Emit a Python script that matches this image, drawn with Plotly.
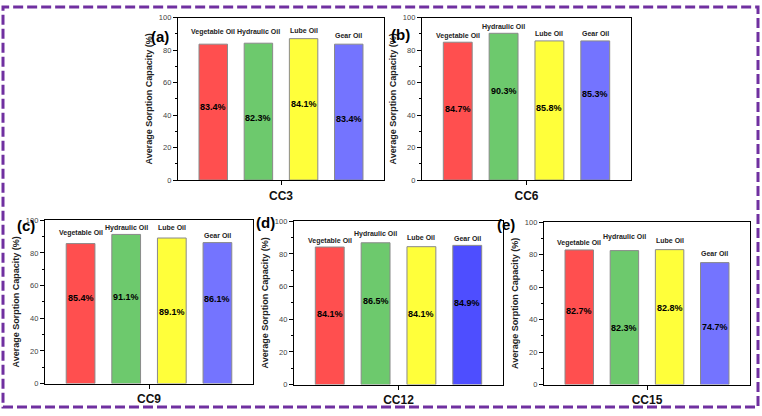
import plotly.graph_objects as go

# ---------------- data ----------------
categories = ["Vegetable Oil", "Hydraulic Oil", "Lube Oil", "Gear Oil"]
samples = ["CC3", "CC6", "CC9", "CC12", "CC15"]
panel_letters = ["(a)", "(b)", "(c)", "(d)", "(e)"]

# bar heights as drawn (%)
cc3_heights = [83.7, 84.3, 87.1, 83.7]
cc6_heights = [84.9, 90.4, 85.7, 85.7]
cc9_heights = [85.7, 91.3, 89.1, 86.3]
cc12_heights = [84.2, 86.8, 84.4, 85.2]
cc15_heights = [82.9, 82.5, 83.1, 75.1]

# printed value labels (%)
cc3_labels = [83.4, 82.3, 84.1, 83.4]
cc6_labels = [84.7, 90.3, 85.8, 85.3]
cc9_labels = [85.4, 91.1, 89.1, 86.1]
cc12_labels = [84.1, 86.5, 84.1, 84.9]
cc15_labels = [82.7, 82.3, 82.8, 74.7]

y_ticks = [0, 20, 40, 60, 80, 100]

heights = [cc3_heights, cc6_heights, cc9_heights, cc12_heights, cc15_heights]
labels = [cc3_labels, cc6_labels, cc9_labels, cc12_labels, cc15_labels]

# ---------------- layout / style ----------------
W, H = 762, 416
# panel boxes in pixels: (left, right, top, bottom)
boxes = [(178, 384, 14, 180), (422, 631, 14, 180),
         (45, 253, 221, 388), (294, 503, 222, 389), (544, 750, 223, 389)]
letter_pos = [(149, 22), (400, 20), (15, 226), (265, 223), (517, 225)]
# vertical placement (data units) of value text and category names
value_text_y = [[44.8, 38.4, 47.0, 37.8], [43.8, 54.8, 44.4, 53.0],
                [52.3, 52.7, 43.7, 51.7], [43.5, 50.9, 43.1, 49.9],
                [45.6, 35.1, 47.2, 35.5]]
cat_text_y = [[91.0, 91.0, 92.0, 89.0], [89.0, 94.2, 90.2, 90.0],
              [92.4, 95.4, 95.4, 90.9], [88.0, 92.2, 89.8, 89.6],
              [87.0, 90.6, 88.8, 80.5]]
base_colors = ["#FF4F4F", "#6DC96D", "#FFFF3A", "#7474FF"]
panel_colors = [base_colors, base_colors, base_colors,
                ["#FF4F4F", "#6DC96D", "#FFFF3A", "#4E4EFF"], base_colors]

FONT = "Liberation Sans, Arial, sans-serif"

fig = go.Figure()
layout = dict(
    width=W, height=H, margin=dict(l=0, r=0, t=0, b=0),
    paper_bgcolor="white", plot_bgcolor="white", showlegend=False,
    font=dict(family=FONT, color="black"),
)
annotations = []

for i in range(5):
    sfx = "" if i == 0 else str(i + 1)
    l, r, t, b = boxes[i]
    xpos = list(range(len(categories)))
    fig.add_trace(go.Bar(
        x=xpos, y=heights[i], width=0.63,
        marker=dict(color=panel_colors[i], line=dict(color="#8a8a8a", width=1)),
        xaxis="x" + sfx, yaxis="y" + sfx, hoverinfo="skip",
    ))
    layout["xaxis" + sfx] = dict(
        domain=[l / W, r / W], anchor="y" + sfx,
        range=[-0.78, 3.78], tickvals=[1.5], ticktext=[samples[i]],
        ticks="outside", ticklen=4, tickcolor="black", tickwidth=1.2,
        tickfont=dict(size=12, family=FONT, color="#111", weight="bold"),
        showline=True, linecolor="black", linewidth=1.3, mirror=True,
        showgrid=False, zeroline=False,
    )
    layout["yaxis" + sfx] = dict(
        domain=[1 - b / H, 1 - t / H], anchor="x" + sfx,
        range=[0, 100], tickvals=y_ticks,
        ticks="outside", ticklen=4, tickcolor="black", tickwidth=1,
        minor=dict(ticks="outside", ticklen=2, dtick=10, tickcolor="black"),
        tickfont=dict(size=7.5, color="#444"),
        showline=True, linecolor="black", linewidth=1.3, mirror=True,
        showgrid=False, zeroline=False,
        title=dict(text="<b>Average Sorption Capacity (%)</b>",
                   font=dict(size=9, color="#222"), standoff=4),
    )
    for j, cat in enumerate(categories):
        annotations.append(dict(
            x=j, y=value_text_y[i][j], xref="x" + sfx, yref="y" + sfx,
            text="<b>%.1f%%</b>" % labels[i][j], showarrow=False,
            font=dict(size=9, color="black"),
        ))
        annotations.append(dict(
            x=j, y=cat_text_y[i][j], xref="x" + sfx, yref="y" + sfx,
            text="<b>%s</b>" % cat, showarrow=False,
            font=dict(size=7, color="#222"),
        ))
    lx, ly = letter_pos[i]
    annotations.append(dict(
        x=lx / W, y=1 - ly / H, xref="paper", yref="paper",
        text="<b>%s</b>" % panel_letters[i], showarrow=False,
        font=dict(size=15, color="black"),
    ))

layout["annotations"] = annotations
layout["shapes"] = [dict(
    type="rect", xref="paper", yref="paper",
    x0=3 / W, x1=758 / W, y0=1 - 412 / H, y1=1 - 3 / H,
    line=dict(color="#7030A0", width=3, dash="10px,4px"),
    fillcolor="rgba(0,0,0,0)", layer="above",
)]
fig.update_layout(**layout)
fig.write_html(
    "out.html",
    config={"displayModeBar": False},
    post_script="document.body.style.margin='0';document.body.style.overflow='hidden';",
)
